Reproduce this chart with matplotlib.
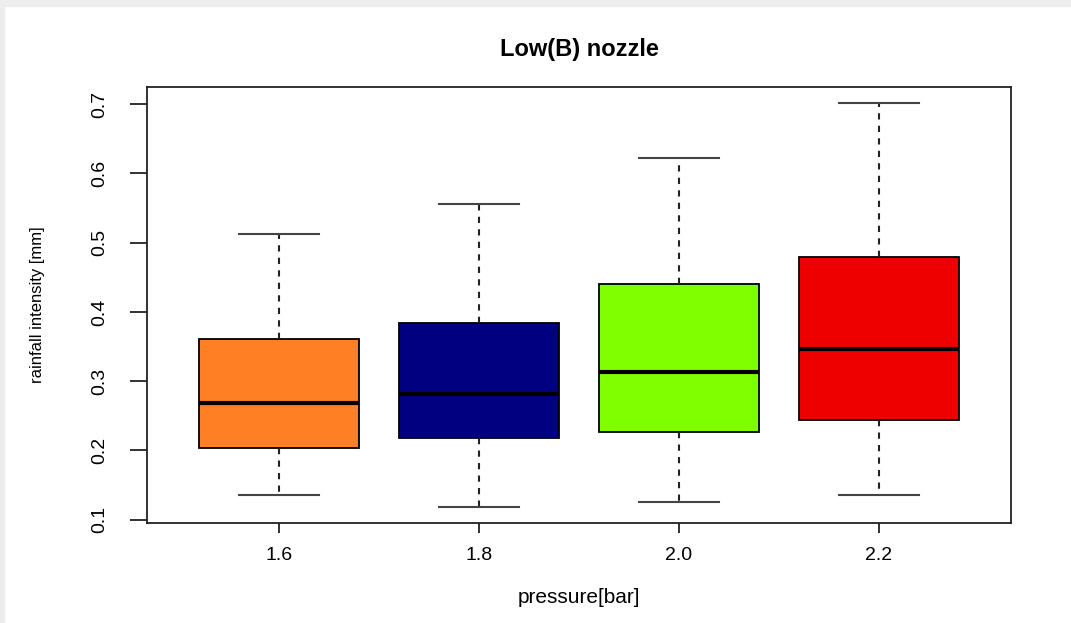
import matplotlib
matplotlib.use('Agg')
import matplotlib.pyplot as plt
from matplotlib.patches import Rectangle

plt.rcParams['font.family'] = ['Liberation Sans', 'DejaVu Sans']

# values
pressure = ['1.6', '1.8', '2.0', '2.2']
whisker_low = [0.135, 0.119, 0.125, 0.135]
q1 = [0.203, 0.218, 0.226, 0.244]
median = [0.268, 0.282, 0.313, 0.346]
q3 = [0.361, 0.384, 0.440, 0.480]
whisker_high = [0.512, 0.556, 0.622, 0.701]
colors = ['#FF7F24', '#000080', '#7FFF00', '#EE0000']

stats = []
for i in range(len(pressure)):
    stats.append({'whislo': whisker_low[i], 'q1': q1[i], 'med': median[i],
                  'q3': q3[i], 'whishi': whisker_high[i], 'fliers': [],
                  'label': pressure[i]})

fig = plt.figure(figsize=(10.71, 6.23), dpi=100)
ax = fig.add_axes([147 / 1071, 1 - 523 / 623, (1011 - 147) / 1071, (523 - 87) / 623])

bp = ax.bxp(stats, positions=[1, 2, 3, 4], widths=0.8, patch_artist=True,
            showfliers=False,
            boxprops=dict(edgecolor='black', linewidth=1.3),
            medianprops=dict(color='black', linewidth=3),
            whiskerprops=dict(color='#222222', linewidth=1.5, linestyle=(0, (3, 3))),
            capprops=dict(color='#444444', linewidth=1.5))
for patch, c in zip(bp['boxes'], colors):
    patch.set_facecolor(c)
# caps are half the box width, as in R
for cap in bp['caps']:
    x = cap.get_xdata()
    mid = (x[0] + x[1]) / 2
    cap.set_xdata([mid - 0.2, mid + 0.2])

ax.set_xlim(0.34, 4.66)
ax.set_ylim(0.0952, 0.7248)
ax.set_yticks([0.1, 0.2, 0.3, 0.4, 0.5, 0.6, 0.7])
ax.set_yticklabels(['0.1', '0.2', '0.3', '0.4', '0.5', '0.6', '0.7'],
                   rotation=90, va='center', fontsize=14)
ax.set_xticks([1, 2, 3, 4])
ax.set_xticklabels(pressure, fontsize=14)
ax.tick_params(axis='both', width=1.3, color='#222222')
ax.tick_params(axis='y', length=12, pad=16)
ax.tick_params(axis='x', length=7.5, pad=10)
for s in ax.spines.values():
    s.set_linewidth(1.3)
    s.set_color('#222222')

ax.set_title('Low(B) nozzle', fontsize=17, fontweight='bold', pad=22)
ax.set_xlabel('pressure[bar]', fontsize=15, labelpad=17)
ax.set_ylabel('rainfall intensity [mm]', fontsize=12)
ax.yaxis.set_label_coords(-0.118, 0.5)

# light screenshot border
fig.patches.append(Rectangle((0, 1 - 6 / 623), 1, 6 / 623, transform=fig.transFigure,
                             color='#ededed', zorder=0))
fig.patches.append(Rectangle((0, 0), 4 / 1071, 1, transform=fig.transFigure,
                             color='#ededed', zorder=0))

fig.savefig('out.png', dpi=100)
